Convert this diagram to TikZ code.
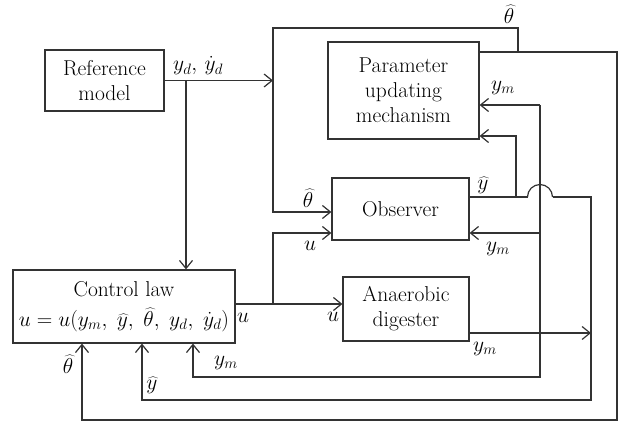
\RequirePackage{fix-cm}
\documentclass[tikz,border=0pt]{standalone}
\usepackage{fontspec}
\usetikzlibrary{arrows.meta}
\colorlet{ln}{black!80}
\begin{document}
\begin{tikzpicture}[x=1pt,y=-1pt,
  line width=1.2pt,
  box/.style={draw=ln, rectangle, inner sep=0pt, align=center,
              font=\fontsize{21.5}{25}\selectfont},
  lbl/.style={inner sep=0pt, font=\fontsize{21.5}{25}\selectfont},
  arr/.style={draw=ln, -{Straight Barb[length=8pt,width=13pt]}},
  wire/.style={draw=ln},
]
\useasboundingbox (0,0) rectangle (622,425);

% blocks
\node[box, minimum width=119pt, minimum height=61pt] (ref) at (104.5,80.5) {Reference\\model};
\node[box, minimum width=151pt, minimum height=97pt] (pum) at (403.5,90.5) {Parameter\\updating\\mechanism};
\node[box, minimum width=137pt, minimum height=62pt] (obs) at (400.5,209) {Observer};
\node[box, minimum width=126pt, minimum height=64pt] (ad) at (406,309) {Anaerobic\\digester};
\node[box, minimum width=222pt, minimum height=73pt] (cl) at (124,306.5)
  {Control law\\[5pt]$u = u(y_m,\; \widehat{y},\; \widehat{\theta},\; y_d,\; \dot{y}_d)$};

% junctions and bends
\coordinate (ydv) at (186,80.5);
\coordinate (refin) at (273,80.5);
\coordinate (thA) at (479,52);
\coordinate (thB) at (518,52);
\coordinate (thC) at (518,28);
\coordinate (thD) at (273,28);
\coordinate (thE) at (273,212);
\coordinate (thF) at (617,52);
\coordinate (thG) at (617,420);
\coordinate (thH) at (82,420);
\coordinate (yhA) at (469,197);
\coordinate (yhB) at (516,197);
\coordinate (yhC) at (516,136);
\coordinate (yhJ) at (527.5,197);
\coordinate (yhK) at (552.5,197);
\coordinate (yhL) at (591,197);
\coordinate (yhM) at (591,400);
\coordinate (yhN) at (142,400);
\coordinate (ymA) at (540,105);
\coordinate (ymB) at (540,233);
\coordinate (ymC) at (540,377);
\coordinate (ymD) at (193,377);
\coordinate (adout) at (591,333);
\coordinate (uA) at (235,304);
\coordinate (uB) at (273,304);
\coordinate (uC) at (273,233);

% reference signals
\draw[arr] (ref.east) -- (refin);
\draw[arr] (ydv) -- (ydv |- cl.north);

% parameter estimate
\draw[arr] (thA) -- (thF) -- (thG) -- (thH) -- (thH |- cl.south);
\draw[arr] (thB) -- (thC) -- (thD) -- (thE) -- (thE -| obs.west);

% estimated output, with a hop over the measurement line
\draw[wire] (yhA) -- (yhJ);
\draw[wire] (yhJ) arc[start angle=180, end angle=360, radius=12.5];
\draw[arr] (yhK) -- (yhL) -- (yhM) -- (yhN) -- (yhN |- cl.south);
\draw[arr] (yhB) -- (yhC) -- (yhC -| pum.east);

% measured output
\draw[arr] (ad.east |- adout) -- (adout);
\draw[arr] (ymA) -- (ymA -| pum.east);
\draw[arr] (ymA) -- (ymC) -- (ymD) -- (ymD |- cl.south);
\draw[arr] (ymB) -- (ymB -| obs.east);

% control input
\draw[arr] (uA) -- (uA -| ad.west);
\draw[arr] (uB) -- (uC) -- (uC -| obs.west);

% signal labels
\node[lbl] (l1) at (198,66) {$y_d,\, \dot{y}_d$};
\node[lbl] (l2) at (509,14) {$\widehat{\theta}$};
\node[lbl] (l3) at (503,88) {$y_m$};
\node[lbl] (l4) at (483,185) {$\widehat{y}$};
\node[lbl] (l5) at (308,198) {$\widehat{\theta}$};
\node[lbl] (l6) at (310,246) {$u$};
\node[lbl] (l7) at (498,249) {$y_m$};
\node[lbl] (l8) at (333,317) {$u$};
\node[lbl] (l9) at (485,349) {$y_m$};
\node[lbl] (l10) at (243,318) {$u$};
\node[lbl] (l11) at (68,364) {$\widehat{\theta}$};
\node[lbl] (l12) at (152,385) {$\widehat{y}$};
\node[lbl] (l13) at (226,363) {$y_m$};
\end{tikzpicture}
\end{document}
